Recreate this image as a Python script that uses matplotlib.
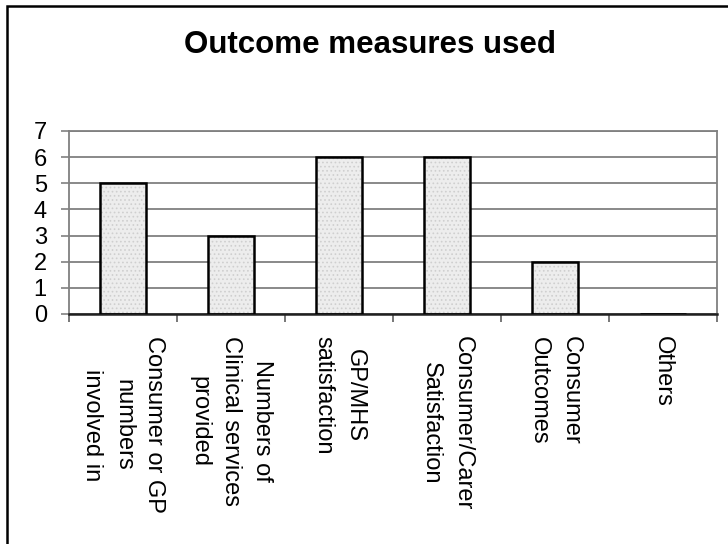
import matplotlib
matplotlib.use('Agg')
import matplotlib.pyplot as plt
from matplotlib.patches import Rectangle
import numpy as np

# Dữ liệu của biểu đồ
categories = ["Consumer or GP\nnumbers\ninvolved in",
              "Numbers of\nClinical services\nprovided",
              "GP/MHS\nsatisfaction",
              "Consumer/Carer\nSatisfaction",
              "Consumer\nOutcomes",
              "Others"]
counts = [5, 3, 6, 6, 2, 0]
y_ticks = [0, 1, 2, 3, 4, 5, 6, 7]
title = "Outcome measures used"

plt.rcParams['font.family'] = ['Liberation Sans', 'DejaVu Sans']
plt.rcParams['hatch.linewidth'] = 0.7

fig = plt.figure(figsize=(7.28, 5.44), dpi=100)
ax = fig.add_axes([69 / 728, 1 - 314 / 544, (717 - 69) / 728, (314 - 131) / 544])

x = np.arange(len(categories)) + 0.5
# nền xám có vân, sau đó viền đen
ax.bar(x, counts, width=0.42, color='#ededed', edgecolor='#cfcfcf',
       hatch='....', linewidth=0, zorder=2)
ax.bar(x, counts, width=0.42, fill=False, edgecolor='black',
       linewidth=1.8, zorder=3)

ax.set_xlim(0, len(categories))
ax.set_ylim(0, max(y_ticks))
ax.set_yticks(y_ticks)
ax.yaxis.grid(True, color='#808080', linewidth=1.3)
ax.set_axisbelow(True)

# vạch chia giữa các nhóm, nhãn ở giữa
ax.set_xticks(np.arange(len(categories) + 1))
ax.set_xticklabels([])
ax.set_xticks(x, minor=True)
ax.set_xticklabels(categories, minor=True, rotation=270, ha='center',
                   va='top', fontsize=17, multialignment='center',
                   linespacing=1.55)
ax.tick_params(axis='x', which='major', direction='out', length=6,
               width=1.2, color='#606060')
ax.tick_params(axis='x', which='minor', length=0, pad=16)
ax.tick_params(axis='y', direction='out', length=6, width=1.2,
               color='#808080', labelsize=17, pad=10)

for side in ['left', 'right', 'top']:
    ax.spines[side].set_color('#808080')
    ax.spines[side].set_linewidth(1.3)
ax.spines['bottom'].set_color('#202020')
ax.spines['bottom'].set_linewidth(1.8)

fig.text(0.508, 1 - 45 / 544, title, ha='center', va='center',
         fontsize=22.5, fontweight='bold')

# khung viền ngoài (chỉ thấy cạnh trái và cạnh trên)
fig.add_artist(Rectangle((7 / 728, -0.1), 1.2, 1 - 6 / 544 + 0.1,
                         transform=fig.transFigure, fill=False,
                         linewidth=1.8, edgecolor='black'))

fig.savefig('out.png', dpi=100)
